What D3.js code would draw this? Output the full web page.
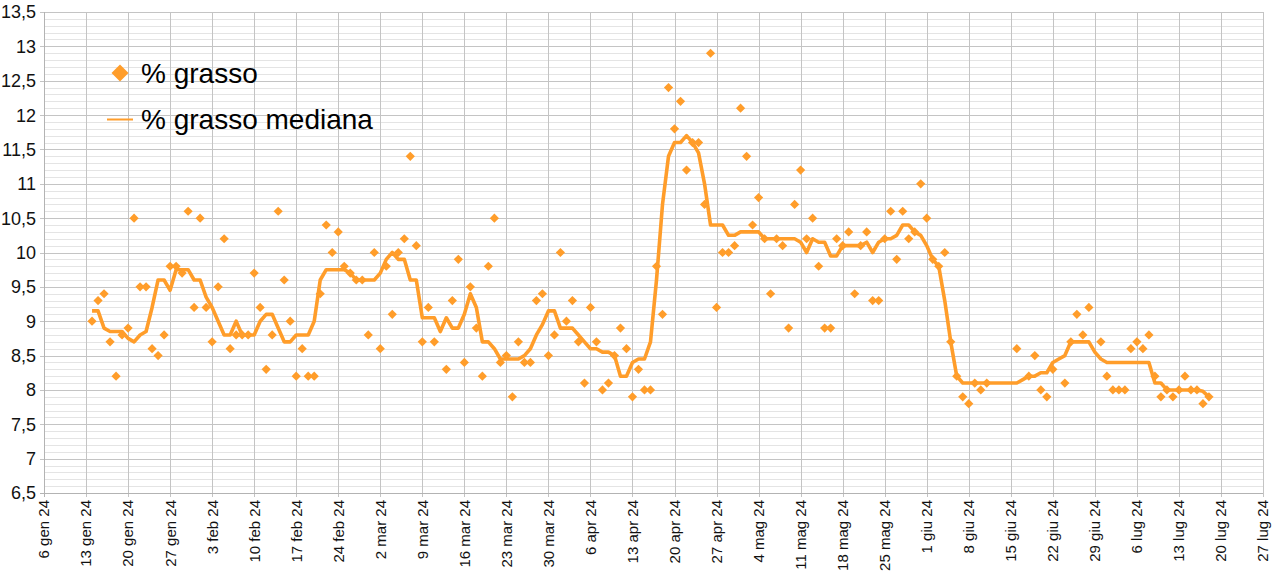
<!DOCTYPE html>
<html>
<head>
<meta charset="utf-8">
<script src="https://cdn.jsdelivr.net/npm/d3@7"></script>
<style>
	html, body { margin: 0; padding: 0; background: #fff; }
	svg { display: block; font-family: "Liberation Sans", Arial, sans-serif; }
</style>
</head>
<body>
<svg id="chart" width="1276" height="576"></svg>
<script>
// daily readings, dates are month-day of 2024
var fatDates = [
	'01-14','01-15','01-16','01-17','01-18','01-19','01-20','01-21','01-22','01-23','01-24','01-25','01-26',
	'01-27','01-28','01-29','01-30','01-31','02-01','02-02','02-03','02-04','02-05','02-06','02-07','02-08',
	'02-09','02-10','02-11','02-12','02-13','02-14','02-15','02-16','02-17','02-18','02-19','02-20','02-21',
	'02-22','02-23','02-24','02-25','02-26','02-27','02-28','02-29','03-01','03-02','03-03','03-04','03-05',
	'03-06','03-07','03-08','03-09','03-10','03-11','03-13','03-14','03-15','03-16','03-17','03-18','03-19',
	'03-20','03-21','03-22','03-23','03-24','03-25','03-26','03-27','03-28','03-29','03-30','03-31','04-01',
	'04-02','04-03','04-04','04-05','04-06','04-07','04-08','04-09','04-10','04-11','04-12','04-13','04-14',
	'04-15','04-16','04-17','04-18','04-19','04-20','04-21','04-22','04-23','04-24','04-25','04-26','04-27',
	'04-28','04-29','04-30','05-01','05-02','05-03','05-04','05-05','05-06','05-07','05-08','05-09','05-10',
	'05-11','05-12','05-13','05-14','05-15','05-16','05-17','05-18','05-19','05-20','05-21','05-22','05-23',
	'05-24','05-25','05-26','05-27','05-28','05-29','05-30','05-31','06-01','06-02','06-03','06-04','06-05',
	'06-06','06-07','06-08','06-09','06-10','06-11','06-16','06-18','06-19','06-20','06-21','06-22','06-24',
	'06-25','06-26','06-27','06-28','06-30','07-01','07-02','07-03','07-04','07-05','07-06','07-07','07-08',
	'07-09','07-10','07-11','07-12','07-13','07-14','07-15','07-16','07-17','07-18'
];
var fatValues = [
	9.0, 9.3, 9.4, 8.7, 8.2, 8.8, 8.9, 10.5, 9.5, 9.5, 8.6, 8.5, 8.8,
	9.8, 9.8, 9.7, 10.6, 9.2, 10.5, 9.2, 8.7, 9.5, 10.2, 8.6, 8.8, 8.8,
	8.8, 9.7, 9.2, 8.3, 8.8, 10.6, 9.6, 9.0, 8.2, 8.6, 8.2, 8.2, 9.4,
	10.4, 10.0, 10.3, 9.8, 9.7, 9.6, 9.6, 8.8, 10.0, 8.6, 9.8, 9.1, 10.0,
	10.2, 11.4, 10.1, 8.7, 9.2, 8.7, 8.3, 9.3, 9.9, 8.4, 9.5, 8.9, 8.2,
	9.8, 10.5, 8.4, 8.5, 7.9, 8.7, 8.4, 8.4, 9.3, 9.4, 8.5, 8.8, 10.0,
	9.0, 9.3, 8.7, 8.1, 9.2, 8.7, 8.0, 8.1, 8.5, 8.9, 8.6, 7.9, 8.3,
	8.0, 8.0, 9.8, 9.1, 12.4, 11.8, 12.2, 11.2, 11.6, 11.6, 10.7, 12.9, 9.2,
	10.0, 10.0, 10.1, 12.1, 11.4, 10.4, 10.8, 10.2, 9.4, 10.2, 10.1, 8.9, 10.7,
	11.2, 10.2, 10.5, 9.8, 8.9, 8.9, 10.2, 10.1, 10.3, 9.4, 10.1, 10.3, 9.3,
	9.3, 10.2, 10.6, 9.9, 10.6, 10.2, 10.3, 11.0, 10.5, 9.9, 9.8, 10.0, 8.7,
	8.2, 7.9, 7.8, 8.1, 8.0, 8.1, 8.6, 8.2, 8.5, 8.0, 7.9, 8.3, 8.1,
	8.7, 9.1, 8.8, 9.2, 8.7, 8.2, 8.0, 8.0, 8.0, 8.6, 8.7, 8.6, 8.8,
	8.2, 7.9, 8.0, 7.9, 8.0, 8.2, 8.0, 8.0, 7.8, 7.9
];

// rolling median as drawn in the picture
var medianDates = [
	'01-14','01-15','01-16','01-17','01-18','01-19','01-20','01-21','01-22','01-23','01-24','01-25','01-26',
	'01-27','01-28','01-29','01-30','01-31','02-01','02-02','02-03','02-04','02-05','02-06','02-07','02-08',
	'02-09','02-10','02-11','02-12','02-13','02-14','02-15','02-16','02-17','02-18','02-19','02-20','02-21',
	'02-22','02-23','02-24','02-25','02-26','02-27','02-28','02-29','03-01','03-02','03-03','03-04','03-05',
	'03-06','03-07','03-08','03-09','03-10','03-11','03-12','03-13','03-14','03-15','03-16','03-17','03-18',
	'03-19','03-20','03-21','03-22','03-23','03-24','03-25','03-26','03-27','03-28','03-29','03-30','03-31',
	'04-01','04-02','04-03','04-04','04-05','04-06','04-07','04-08','04-09','04-10','04-11','04-12','04-13',
	'04-14','04-15','04-16','04-17','04-18','04-19','04-20','04-21','04-22','04-23','04-24','04-25','04-26',
	'04-27','04-28','04-29','04-30','05-01','05-02','05-03','05-04','05-05','05-06','05-07','05-08','05-09',
	'05-10','05-11','05-12','05-13','05-14','05-15','05-16','05-17','05-18','05-19','05-20','05-21','05-22',
	'05-23','05-24','05-25','05-26','05-27','05-28','05-29','05-30','05-31','06-01','06-02','06-03','06-04',
	'06-05','06-06','06-07','06-08','06-11','06-16','06-17','06-18','06-19','06-20','06-21','06-22','06-23',
	'06-24','06-25','06-26','06-27','06-28','06-29','06-30','07-01','07-08','07-09','07-10','07-11','07-16',
	'07-17','07-18'
];
var medianValues = [
	9.15, 9.15, 8.9, 8.85, 8.85, 8.85, 8.75, 8.7, 8.8, 8.85, 9.2, 9.6, 9.6,
	9.45, 9.75, 9.75, 9.75, 9.6, 9.6, 9.35, 9.2, 9.0, 8.8, 8.8, 9.0, 8.8,
	8.8, 8.8, 9.0, 9.1, 9.1, 8.9, 8.7, 8.7, 8.8, 8.8, 8.8, 9.0, 9.6,
	9.75, 9.75, 9.75, 9.75, 9.7, 9.6, 9.6, 9.6, 9.6, 9.7, 9.9, 10.0, 9.9,
	9.9, 9.6, 9.6, 9.05, 9.05, 9.05, 8.85, 9.05, 8.9, 8.9, 9.1, 9.4, 9.2,
	8.7, 8.7, 8.6, 8.45, 8.45, 8.45, 8.45, 8.5, 8.6, 8.8, 8.95, 9.15, 9.15,
	8.9, 8.9, 8.9, 8.8, 8.7, 8.6, 8.6, 8.55, 8.55, 8.5, 8.2, 8.2, 8.4,
	8.45, 8.45, 8.7, 9.6, 10.7, 11.4, 11.6, 11.6, 11.7, 11.6, 11.45, 11.0, 10.4,
	10.4, 10.4, 10.25, 10.25, 10.3, 10.3, 10.3, 10.3, 10.2, 10.2, 10.2, 10.2, 10.2,
	10.2, 10.15, 10.0, 10.2, 10.15, 10.15, 9.95, 9.95, 10.1, 10.1, 10.1, 10.1, 10.15,
	10.0, 10.15, 10.2, 10.2, 10.25, 10.4, 10.4, 10.3, 10.25, 10.1, 9.9, 9.8, 9.3,
	8.7, 8.2, 8.1, 8.1, 8.1, 8.1, 8.15, 8.2, 8.2, 8.25, 8.25, 8.4, 8.45,
	8.5, 8.7, 8.7, 8.7, 8.7, 8.55, 8.45, 8.4, 8.4, 8.1, 8.1, 8.0, 8.0,
	7.98, 7.9
];

var xDomain = ['2024-01-06', '2024-07-27'];
var yDomain = [6.5, 13.5];
var legendLabels = ['% grasso', '% grasso mediana'];
var shortMonths = ['gen', 'feb', 'mar', 'apr', 'mag', 'giu', 'lug', 'ago', 'set', 'ott', 'nov', 'dic'];

var orange = '#ff9d2a';
var plot = { left: 44, right: 1263, top: 12, bottom: 493 };

var parseDay = d3.utcParse('%Y-%m-%d');
function day(md) { return parseDay('2024-' + md); }

var itLocale = d3.timeFormatLocale({
	dateTime: '%A %e %B %Y, %X', date: '%d/%m/%Y', time: '%H:%M:%S', periods: ['AM', 'PM'],
	days: ['domenica', 'lunedì', 'martedì', 'mercoledì', 'giovedì', 'venerdì', 'sabato'],
	shortDays: ['dom', 'lun', 'mar', 'mer', 'gio', 'ven', 'sab'],
	months: ['gennaio', 'febbraio', 'marzo', 'aprile', 'maggio', 'giugno', 'luglio', 'agosto',
		'settembre', 'ottobre', 'novembre', 'dicembre'],
	shortMonths: shortMonths
});
var fmtDate = itLocale.utcFormat('%-d %b %y');
function fmtNum(v) { return String(v).replace('.', ','); }

var x = d3.scaleUtc()
	.domain(xDomain.map(function(s) { return parseDay(s); }))
	.range([plot.left, plot.right]);
var y = d3.scaleLinear()
	.domain(yDomain)
	.range([plot.bottom, plot.top]);

var svg = d3.select('#chart');

var xTicks = d3.utcSaturday.range(x.domain()[0], d3.utcDay.offset(x.domain()[1], 1));
var yMajor = d3.range(0, 15).map(function(i) { return yDomain[0] + i * 0.5; });
var yMinor = d3.range(0, 71).map(function(i) { return +(yDomain[0] + i * 0.1).toFixed(1); })
	.filter(function(v) { return yMajor.indexOf(v) < 0; });

var grid = svg.append('g');

grid.selectAll('line.minor')
	.data(yMinor)
	.enter().append('line')
	.attr('class', 'minor')
	.attr('x1', plot.left).attr('x2', plot.right)
	.attr('y1', function(v) { return Math.round(y(v)) + 0.5; })
	.attr('y2', function(v) { return Math.round(y(v)) + 0.5; })
	.style('stroke', '#e4e4e4');

grid.selectAll('line.major')
	.data(yMajor)
	.enter().append('line')
	.attr('class', 'major')
	.attr('x1', plot.left - 4).attr('x2', plot.right)
	.attr('y1', function(v) { return Math.round(y(v)) + 0.5; })
	.attr('y2', function(v) { return Math.round(y(v)) + 0.5; })
	.style('stroke', '#c4c4c4');

grid.selectAll('line.vert')
	.data(xTicks)
	.enter().append('line')
	.attr('class', 'vert')
	.attr('x1', function(d) { return Math.round(x(d)) + 0.5; })
	.attr('x2', function(d) { return Math.round(x(d)) + 0.5; })
	.attr('y1', plot.top).attr('y2', plot.bottom + 4)
	.style('stroke', '#c4c4c4');

// axis lines
svg.append('line')
	.attr('x1', plot.left + 0.5).attr('x2', plot.left + 0.5)
	.attr('y1', plot.top).attr('y2', plot.bottom + 4)
	.style('stroke', '#b3b3b3');
svg.append('line')
	.attr('x1', plot.left - 4).attr('x2', plot.right)
	.attr('y1', plot.bottom + 0.5).attr('y2', plot.bottom + 0.5)
	.style('stroke', '#b3b3b3');

svg.append('g').selectAll('text')
	.data(yMajor)
	.enter().append('text')
	.attr('x', 36)
	.attr('y', function(v) { return y(v); })
	.attr('dy', '0.36em')
	.attr('text-anchor', 'end')
	.style('font-size', '18px')
	.style('fill', '#111')
	.text(fmtNum);

svg.append('g').selectAll('text')
	.data(xTicks)
	.enter().append('text')
	.attr('transform', function(d) { return 'translate(' + x(d) + ',' + (plot.bottom + 7) + ') rotate(-90)'; })
	.attr('dy', '0.36em')
	.attr('text-anchor', 'end')
	.style('font-size', '15px')
	.style('fill', '#111')
	.text(fmtDate);

var points = fatDates.map(function(d, i) { return { date: day(d), value: fatValues[i] }; });
var median = medianDates.map(function(d, i) { return { date: day(d), value: medianValues[i] }; });

function diamond(r) {
	return 'M0,' + (-r) + 'L' + r + ',0L0,' + r + 'L' + (-r) + ',0Z';
}

svg.append('g').selectAll('path')
	.data(points)
	.enter().append('path')
	.attr('transform', function(p) { return 'translate(' + x(p.date) + ',' + y(p.value) + ')'; })
	.attr('d', diamond(4.6))
	.style('fill', orange);

var line = d3.line()
	.x(function(p) { return x(p.date); })
	.y(function(p) { return y(p.value); });

svg.append('path')
	.datum(median)
	.attr('d', line)
	.style('fill', 'none')
	.style('stroke', orange)
	.style('stroke-width', 3.6)
	.style('stroke-linejoin', 'round');

// legend
var legend = svg.append('g');
legend.append('path')
	.attr('transform', 'translate(120,73)')
	.attr('d', diamond(8.5))
	.style('fill', orange);
legend.append('line')
	.attr('x1', 107).attr('x2', 133)
	.attr('y1', 119.5).attr('y2', 119.5)
	.style('stroke', orange)
	.style('stroke-width', 2);
legend.selectAll('text')
	.data(legendLabels)
	.enter().append('text')
	.attr('x', 141)
	.attr('y', function(d, i) { return 83 + i * 46; })
	.style('font-size', '28px')
	.style('fill', '#000')
	.text(function(d) { return d; });
</script>
</body>
</html>
